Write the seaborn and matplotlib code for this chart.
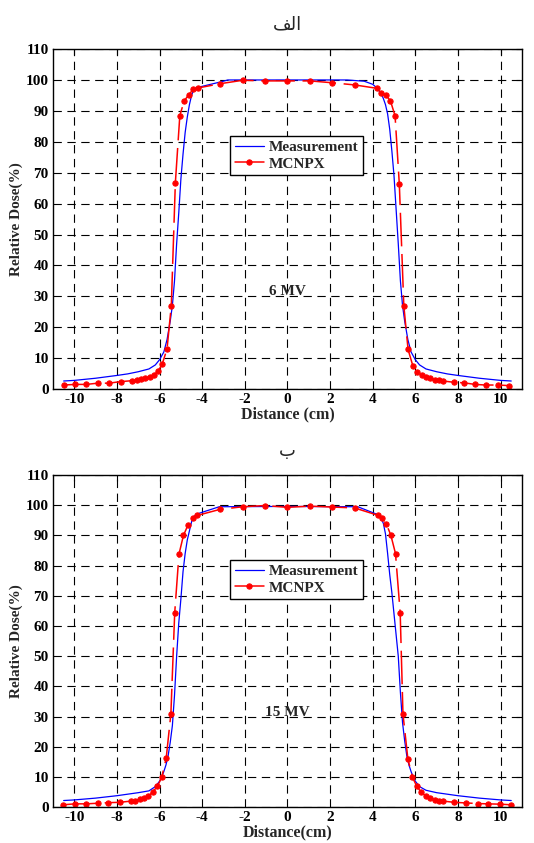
import numpy as np
import pandas as pd
import matplotlib
matplotlib.use("Agg")
import matplotlib.pyplot as plt
import seaborn as sns

# ---- 6 MV panel (الف) ----
meas6_x = [-10.5, -10, -9, -8, -7.5, -7, -6.5, -6.2, -6.0, -5.8, -5.65, -5.5, -5.4, -5.3, -5.2,
           -5.1, -5.0, -4.9, -4.8, -4.7, -4.6, -4.5, -4.4, -4.2, -3.6, -3.0, -2.8, 0, 2.8, 3.6,
           4.0, 4.2, 4.4, 4.5, 4.6, 4.7, 4.8, 4.9, 5.0, 5.1, 5.2, 5.3, 5.4, 5.5, 5.65, 5.8,
           6.0, 6.2, 6.5, 7, 7.5, 8, 9, 10, 10.5]
meas6_y = [2.6, 2.8, 3.5, 4.4, 4.9, 5.6, 6.5, 7.8, 9.5, 12, 16, 22, 27, 35, 47,
           57, 68, 76, 83, 88, 92, 95, 96.8, 97.6, 98.6, 99.6, 100, 100, 100, 99.6,
           98.6, 97.4, 95.5, 94, 92, 89, 84, 77, 69, 58, 47, 35, 27, 22, 16, 12,
           9.5, 7.8, 6.5, 5.6, 4.9, 4.4, 3.5, 2.8, 2.6]
mcnp6_x = [-10.5, -9.95, -9.44, -8.9, -8.38, -7.83, -7.3, -7.08, -6.88, -6.67, -6.46, -6.27,
           -6.08, -5.88, -5.65, -5.45, -5.26, -5.05, -4.84, -4.63, -4.42, -4.21, -3.15, -2.1,
           -1.05, 0, 1.05, 2.1, 3.15, 4.2, 4.41, 4.62, 4.83, 5.05, 5.25, 5.46, 5.66, 5.88,
           6.1, 6.3, 6.5, 6.7, 6.9, 7.1, 7.3, 7.8, 8.3, 8.8, 9.3, 9.9, 10.4]
mcnp6_y = [1.3, 1.5, 1.5, 1.9, 1.9, 2.4, 2.7, 2.9, 3.1, 3.5, 3.9, 4.6,
           5.7, 8.0, 13.0, 27, 66.7, 88.5, 93.3, 95.2, 97.0, 97.4, 98.8, 99.9,
           99.7, 99.7, 99.7, 99.1, 98.4, 97.3, 95.9, 95.0, 93.3, 88.4, 66.2, 27, 12.8, 7.6,
           5.6, 4.6, 3.9, 3.5, 3.0, 2.8, 2.6, 2.2, 2.0, 1.5, 1.3, 1.3, 1.1]

# ---- 15 MV panel (ب) ----
meas15_x = [-10.5, -10, -9, -8, -7.5, -7, -6.5, -6.2, -6.0, -5.9, -5.8, -5.7, -5.6, -5.5, -5.4,
            -5.3, -5.2, -5.1, -5.0, -4.9, -4.8, -4.7, -4.6, -4.5, -4.4, -4.2, -3.2, 0, 3.3,
            4.2, 4.4, 4.5, 4.6, 4.7, 4.8, 4.9, 5.0, 5.1, 5.2, 5.3, 5.4, 5.5, 5.6, 5.7, 5.8,
            5.9, 6.0, 6.2, 6.5, 7, 7.5, 8, 9, 10, 10.5]
meas15_y = [2.2, 2.4, 3.0, 3.8, 4.3, 4.8, 5.4, 6.8, 8.6, 10, 11.8, 14, 17, 21.5, 27,
            37, 50, 61, 69, 78, 84, 88.5, 91.5, 94.5, 96.2, 97.2, 99.5, 99.6, 99.5,
            97.0, 95.5, 94, 90.5, 84, 77, 71, 64, 57, 50, 38, 28, 22, 17, 14, 11.8,
            10, 8.6, 6.8, 5.6, 4.8, 4.3, 3.8, 3.0, 2.4, 2.2]
mcnp15_x = [-10.51, -9.97, -9.44, -8.91, -8.4, -7.88, -7.36, -7.15, -6.93, -6.71, -6.53, -6.32,
            -6.1, -5.9, -5.69, -5.47, -5.29, -5.09, -4.88, -4.67, -4.45, -4.24, -3.18, -2.1,
            -1.05, 0, 1.05, 2.1, 3.15, 4.23, 4.43, 4.64, 4.85, 5.07, 5.29, 5.42, 5.65, 5.86,
            6.07, 6.28, 6.48, 6.7, 6.9, 7.1, 7.32, 7.83, 8.38, 8.93, 9.39, 9.95, 10.47]
mcnp15_y = [0.8, 1.1, 1.1, 1.3, 1.5, 1.6, 2.0, 2.2, 2.6, 3.1, 3.6, 5.1,
            6.9, 9.9, 16.2, 30.9, 64.4, 83.8, 90, 93.4, 95.8, 96.6, 98.6, 99.5,
            99.9, 99.3, 99.7, 99.4, 99.1, 96.7, 95.8, 93.8, 90.1, 84, 64.4, 30.9, 16, 10,
            6.9, 4.9, 3.8, 3.2, 2.5, 2.1, 2.0, 1.6, 1.4, 1.2, 1.1, 1.0, 0.8]

# Persian panel captions ("الف" and "ب"), written as presentation forms in visual order
captions = ["\ufed2\ufedf\ufe8d", "\ufe8f"]
energies = ["6 MV", "15 MV"]
xlabels = ["Distance (cm)", "Distance(cm)"]
x_ticks = list(range(-10, 11, 2))
y_ticks = list(range(0, 111, 10))

sns.set_style("white")
plt.rcParams['font.family'] = ['Liberation Serif', 'DejaVu Sans']
plt.rcParams['font.weight'] = 'bold'
plt.rcParams['axes.unicode_minus'] = False

fig = plt.figure(figsize=(5.34, 8.43), dpi=100)
ax1 = fig.add_axes([0.0993, 0.5385, 0.878, 0.4033])
ax2 = fig.add_axes([0.0993, 0.0425, 0.878, 0.394])

panels = [
    (ax1, meas6_x, meas6_y, mcnp6_x, mcnp6_y),
    (ax2, meas15_x, meas15_y, mcnp15_x, mcnp15_y),
]

for i, (ax, mx, my, cx, cy) in enumerate(panels):
    df_m = pd.DataFrame({'x': mx, 'y': my})
    df_c = pd.DataFrame({'x': cx, 'y': cy})
    sns.lineplot(data=df_m, x='x', y='y', ax=ax, color='blue', lw=0.9,
                 sort=False, estimator=None, label='Measurement')
    sns.lineplot(data=df_c, x='x', y='y', ax=ax, color='red', lw=1.1,
                 marker='o', markersize=3.8, markeredgecolor='red',
                 sort=False, estimator=None, label='MCNPX')
    ax.lines[1].set_dashes([22, 5])

    ax.set_xlim(-11, 11)
    ax.set_ylim(0, 110)
    ax.set_xticks(x_ticks)
    ax.set_yticks(y_ticks)
    ax.set_xticklabels([str(t) for t in x_ticks], fontweight='bold', fontsize=11)
    ax.set_yticklabels([str(t) for t in y_ticks], fontweight='bold', fontsize=11)
    ax.grid(True, color='black', linestyle=(0, (7.5, 5)), lw=0.8)
    ax.tick_params(direction='in', length=4, width=0.8, top=True, right=True,
                   pad=3, colors='black')
    for sp in ax.spines.values():
        sp.set_color('black')
        sp.set_linewidth(1.0)

    ax.set_xlabel(xlabels[i], fontsize=11.5, fontweight='bold', labelpad=0)
    ax.set_ylabel('Relative Dose(%)', fontsize=11, fontweight='bold', labelpad=2)
    ax.text(0, 31.5, energies[i], ha='center', va='center', fontsize=11, fontweight='bold')
    ax.set_title(captions[i], family=['DejaVu Sans'], fontweight='normal',
                 fontsize=13, pad=14)

    leg = ax.legend(loc='upper left', bbox_to_anchor=(0.378, 0.745), borderaxespad=0,
                    fancybox=False, edgecolor='black', framealpha=1,
                    prop={'family': 'Liberation Serif', 'weight': 'bold', 'size': 11},
                    handlelength=1.9, handletextpad=0.3, borderpad=0.3, labelspacing=0.2)
    leg.get_frame().set_linewidth(1.0)
    leg.get_lines()[1].set_linestyle('-')

fig.savefig('out.png', dpi=100)
